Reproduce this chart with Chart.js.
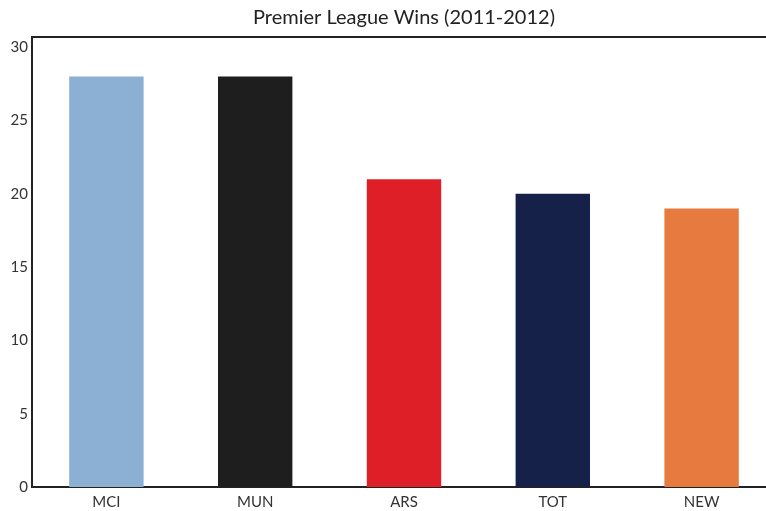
<!DOCTYPE html>
<html>
<head>
<meta charset="utf-8">
<script src="https://cdn.jsdelivr.net/npm/chart.js@4"></script>
<style>
  html, body { margin: 0; padding: 0; background: #fff; overflow: hidden; }
  #wrap { width: 776px; height: 511px; }
</style>
</head>
<body>
<div id="wrap"><canvas id="chart"></canvas></div>
<script>
const teams = ["MCI", "MUN", "ARS", "TOT", "NEW"];
const wins = [28, 28, 21, 20, 19];
const teamColors = ["#8cafd4", "#1e1e1e", "#df1f27", "#16214a", "#e77a3e"];
const yTicks = [0, 5, 10, 15, 20, 25, 30];

// top frame line of the plot area
const topLine = {
  id: "topLine",
  afterDraw(chart) {
    const { ctx, chartArea } = chart;
    ctx.save();
    ctx.strokeStyle = "#222";
    ctx.lineWidth = 2;
    ctx.beginPath();
    ctx.moveTo(chartArea.left, chartArea.top);
    ctx.lineTo(chartArea.right + 10, chartArea.top);
    ctx.stroke();
    ctx.restore();
  }
};

new Chart(document.getElementById("chart"), {
  type: "bar",
  data: {
    labels: teams,
    datasets: [{
      label: "Wins",
      data: wins,
      backgroundColor: teamColors,
      borderWidth: 0,
      barPercentage: 0.5,
      categoryPercentage: 1.0
    }]
  },
  options: {
    responsive: true,
    maintainAspectRatio: false,
    animation: false,
    layout: { padding: 0 },
    plugins: {
      legend: { display: false },
      tooltip: { enabled: false },
      title: {
        display: true,
        fullSize: false,
        text: "Premier League Wins (2011-2012)",
        color: "#222",
        font: { family: "Lato", size: 20, weight: "normal" },
        padding: { top: 6, bottom: 7 }
      }
    },
    scales: {
      x: {
        grid: { display: false, drawTicks: false },
        border: { display: true, color: "#222", width: 2 },
        ticks: { color: "#333", font: { family: "Lato", size: 15 }, padding: 6 },
        afterFit(scale) { scale.height = 24; }
      },
      y: {
        min: 0,
        max: 30.7,
        grid: { display: false, drawTicks: false },
        border: { display: true, color: "#222", width: 2 },
        ticks: { color: "#333", font: { family: "Lato", size: 15 }, padding: 4 },
        afterBuildTicks(scale) { scale.ticks = yTicks.map(v => ({ value: v })); },
        afterFit(scale) { scale.width = 32; }
      }
    }
  },
  plugins: [topLine]
});
</script>
</body>
</html>
